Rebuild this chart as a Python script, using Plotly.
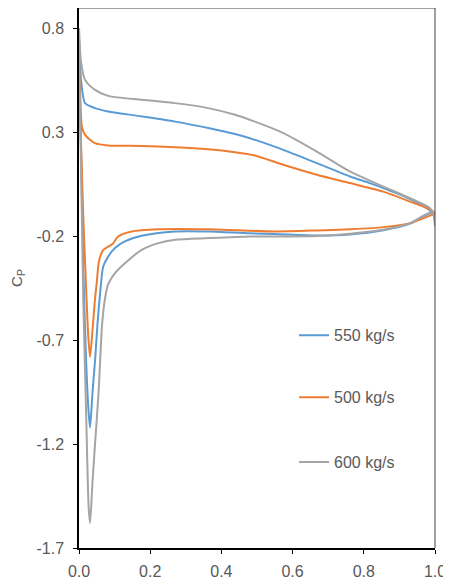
import plotly.graph_objects as go

# Series: x/c and Cp, ordered around the airfoil (trailing edge -> upper -> leading edge -> lower -> trailing edge)
x_550 = [1.0, 0.986, 0.93, 0.855, 0.817, 0.761, 0.668, 0.574, 0.48, 0.438, 0.363, 0.27, 0.176, 0.082, 0.045, 0.017, 0.006, 0.0,
         0.006, 0.012, 0.02, 0.026, 0.031, 0.038, 0.045, 0.052, 0.059, 0.068, 0.082, 0.101, 0.129, 0.176, 0.27, 0.363, 0.48, 0.55, 0.668, 0.761, 0.855, 0.93, 0.986, 1.0]
cp_550 = [-0.10, -0.075, -0.02, 0.033, 0.057, 0.089, 0.153, 0.217, 0.273, 0.293, 0.322, 0.353, 0.378, 0.402, 0.418, 0.442, 0.55, 0.75,
          0.20, -0.35, -0.80, -1.02, -1.12, -0.95, -0.80, -0.62, -0.48, -0.345, -0.297, -0.256, -0.224, -0.197, -0.176, -0.176, -0.185, -0.188, -0.195, -0.19, -0.17, -0.138, -0.09, -0.10]

x_500 = [1.0, 0.986, 0.93, 0.855, 0.761, 0.668, 0.574, 0.494, 0.438, 0.363, 0.27, 0.176, 0.082, 0.045, 0.017, 0.008, 0.003, 0.0,
         0.004, 0.012, 0.02, 0.026, 0.031, 0.038, 0.045, 0.05, 0.055, 0.059, 0.068, 0.082, 0.095, 0.11, 0.148, 0.223, 0.363, 0.55, 0.668, 0.761, 0.855, 0.93, 0.986, 1.0]
cp_500 = [-0.09, -0.07, -0.032, 0.016, 0.057, 0.097, 0.145, 0.19, 0.206, 0.22, 0.23, 0.236, 0.238, 0.249, 0.289, 0.33, 0.50, 0.63,
          0.35, -0.10, -0.45, -0.68, -0.78, -0.65, -0.50, -0.42, -0.33, -0.30, -0.265, -0.249, -0.235, -0.20, -0.176, -0.165, -0.165, -0.176, -0.171, -0.165, -0.155, -0.136, -0.10, -0.09]

x_600 = [1.0, 0.995, 0.986, 0.93, 0.855, 0.761, 0.668, 0.574, 0.494, 0.438, 0.363, 0.27, 0.176, 0.082, 0.045, 0.017, 0.005, 0.0,
         0.004, 0.008, 0.012, 0.02, 0.027, 0.031, 0.038, 0.045, 0.055, 0.065, 0.073, 0.082, 0.101, 0.129, 0.176, 0.223, 0.27, 0.363, 0.48, 0.574, 0.668, 0.761, 0.855, 0.93, 0.986, 1.0]
cp_600 = [-0.15, -0.09, -0.064, -0.016, 0.04, 0.113, 0.209, 0.298, 0.353, 0.386, 0.418, 0.442, 0.458, 0.477, 0.506, 0.554, 0.65, 0.80,
          0.30, -0.10, -0.50, -1.05, -1.50, -1.58, -1.38, -1.20, -0.95, -0.62, -0.50, -0.43, -0.377, -0.329, -0.265, -0.232, -0.216, -0.208, -0.20, -0.20, -0.198, -0.187, -0.168, -0.136, -0.086, -0.10]

series = [
    ("550 kg/s", x_550, cp_550, "#5B9BD5", "legend"),
    ("500 kg/s", x_500, cp_500, "#ED7D31", "legend2"),
    ("600 kg/s", x_600, cp_600, "#A5A5A5", "legend3"),
]

x_ticks = [0.0, 0.2, 0.4, 0.6, 0.8, 1.0]
y_ticks = [0.8, 0.3, -0.2, -0.7, -1.2, -1.7]

fig = go.Figure()
for name, xs, ys, col, lg in series:
    fig.add_trace(go.Scatter(x=xs, y=ys, mode="lines", name=name,
                             line=dict(color=col, width=2, shape="spline", smoothing=0.7),
                             legend=lg))

font = dict(family="Liberation Sans, Arial, sans-serif", size=12, color="#595959")
leg_common = dict(x=0.604, xanchor="left", yanchor="middle", bgcolor="rgba(0,0,0,0)",
                  font=dict(family="Liberation Sans, Arial, sans-serif", size=16, color="#595959"))

fig.update_layout(
    width=443, height=580,
    margin=dict(l=71, r=16, t=0, b=40),
    paper_bgcolor="white", plot_bgcolor="white",
    font=font,
    showlegend=True,
    legend=dict(y=0.394, **leg_common),
    legend2=dict(y=0.279, **leg_common),
    legend3=dict(y=0.159, **leg_common),
    xaxis=dict(range=[0, 1.0], tickvals=x_ticks, ticktext=[f"{v:.1f}" for v in x_ticks],
               showgrid=False, zeroline=False, showline=True, linecolor="black", linewidth=1.5,
               ticks="outside", ticklen=4, tickcolor="black", ticklabelstandoff=4,
               tickfont=dict(size=16, color="#595959")),
    yaxis=dict(range=[-1.7, 0.9], tickvals=y_ticks, ticktext=[f"{v:.1f}" for v in y_ticks],
               showgrid=False, zeroline=False, showline=True, linecolor="black", linewidth=1.5,
               ticks="outside", ticklen=4, tickcolor="black", ticklabelstandoff=6,
               tickfont=dict(size=16, color="#595959"),
               title=dict(text="C<sub>P</sub>", font=dict(size=15, color="#595959"), standoff=10)),
    shapes=[
        dict(type="line", xref="paper", yref="paper", x0=0, x1=1, y0=1, y1=1,
             line=dict(color="#404040", width=1)),
        dict(type="line", xref="paper", yref="paper", x0=1, x1=1, y0=0, y1=1,
             line=dict(color="#404040", width=1)),
    ],
)

fig.write_html("out.html")
